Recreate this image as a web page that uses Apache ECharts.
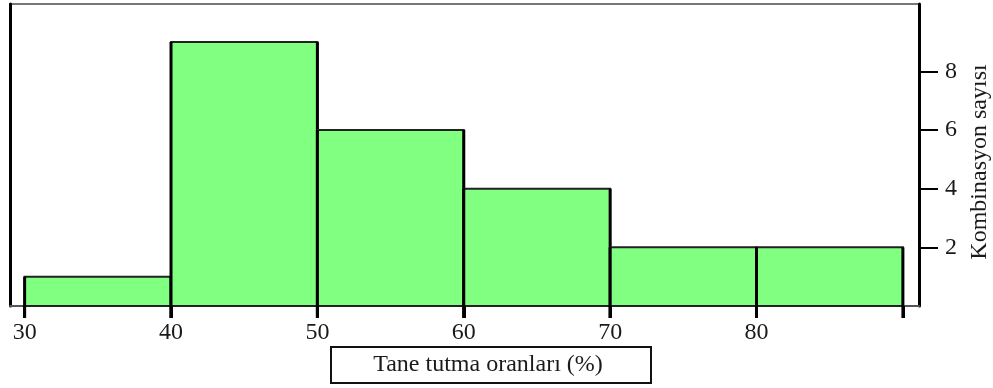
<!DOCTYPE html>
<html>
<head>
<meta charset="utf-8">
<script src="https://cdn.jsdelivr.net/npm/echarts@6/dist/echarts.min.js"></script>
<style>
  html, body { margin: 0; padding: 0; background: #fff; }
  #chart { width: 993px; height: 388px; }
</style>
</head>
<body>
<div id="chart"></div>
<script>
// Histogram bins (lower edge, upper edge) and counts
const binStarts = [30, 40, 50, 60, 70, 80];
const binEnds = [40, 50, 60, 70, 80, 90];
const counts = [1, 9, 6, 4, 2, 2];
const xTicks = [30, 40, 50, 60, 70, 80, 90];
const xLabels = [30, 40, 50, 60, 70, 80];
const yTicks = [2, 4, 6, 8];

const chart = echarts.init(document.getElementById('chart'));

const font = '"Liberation Serif", "DejaVu Serif", serif';
const textColor = '#1a1a1a';

const data = binStarts.map((s, i) => [s, binEnds[i], counts[i]]);

const option = {
  backgroundColor: '#fff',
  animation: false,
  grid: {
    left: 10,
    right: 74,
    top: 4,
    bottom: 82,
    outerBoundsMode: 'none',
    show: true,
    borderColor: '#777',
    borderWidth: 2,
  },
  xAxis: {
    type: 'value',
    min: 29,
    max: 91.1,
    splitLine: { show: false },
    axisLine: { lineStyle: { color: '#555', width: 2 } },
    axisTick: {
      customValues: xTicks,
      length: 12,
      lineStyle: { color: '#000', width: 3 },
    },
    axisLabel: {
      customValues: xLabels,
      margin: 15,
      color: textColor,
      fontFamily: font,
      fontSize: 24,
    },
  },
  yAxis: [
    {
      type: 'value',
      position: 'right',
      min: 0,
      max: 10.3,
      splitLine: { show: false },
      axisLine: { show: true, onZero: false, lineStyle: { color: '#000', width: 3 } },
      axisTick: {
        show: true,
        customValues: yTicks,
        length: 19,
        lineStyle: { color: '#000', width: 2 },
      },
      axisLabel: {
        customValues: yTicks,
        margin: 26,
        color: textColor,
        fontFamily: font,
        fontSize: 24,
      },
      name: 'Kombinasyon sayısı',
      nameLocation: 'middle',
      nameRotate: 90,
      nameGap: 47,
      nameTextStyle: { color: textColor, fontFamily: font, fontSize: 24, padding: [0, 14, 0, 0] },
    },
    {
      type: 'value',
      position: 'left',
      min: 0,
      max: 10.3,
      splitLine: { show: false },
      axisLine: { show: true, onZero: false, lineStyle: { color: '#000', width: 3 } },
      axisTick: { show: false },
      axisLabel: { show: false },
    },
  ],
  graphic: [
    {
      type: 'group',
      left: 330,
      top: 346,
      children: [
        {
          type: 'rect',
          shape: { x: 0, y: 0, width: 320, height: 36 },
          style: { fill: '#fff', stroke: '#111', lineWidth: 2 },
        },
        {
          type: 'text',
          x: 157,
          y: 18,
          style: {
            text: 'Tane tutma oranları (%)',
            fill: textColor,
            font: '24px ' + font,
            textAlign: 'center',
            textVerticalAlign: 'middle',
          },
        },
      ],
    },
  ],
  series: [
    {
      type: 'custom',
      data: data,
      encode: { x: [0, 1], y: 2 },
      renderItem: (params, api) => {
        const p0 = api.coord([api.value(0), api.value(2)]);
        const p1 = api.coord([api.value(1), 0]);
        const tickBottom = p1[1] + 12;
        return {
          type: 'group',
          children: [
            {
              type: 'rect',
              shape: { x: p0[0], y: p0[1], width: p1[0] - p0[0], height: p1[1] - p0[1] },
              style: { fill: '#80ff80', stroke: '#222', lineWidth: 2 },
            },
            {
              type: 'line',
              shape: { x1: p0[0], y1: p0[1], x2: p0[0], y2: tickBottom },
              style: { stroke: '#000', lineWidth: 3 },
            },
            {
              type: 'line',
              shape: { x1: p1[0], y1: p0[1], x2: p1[0], y2: tickBottom },
              style: { stroke: '#000', lineWidth: 3 },
            },
          ],
        };
      },
    },
  ],
};

chart.setOption(option);
</script>
</body>
</html>
